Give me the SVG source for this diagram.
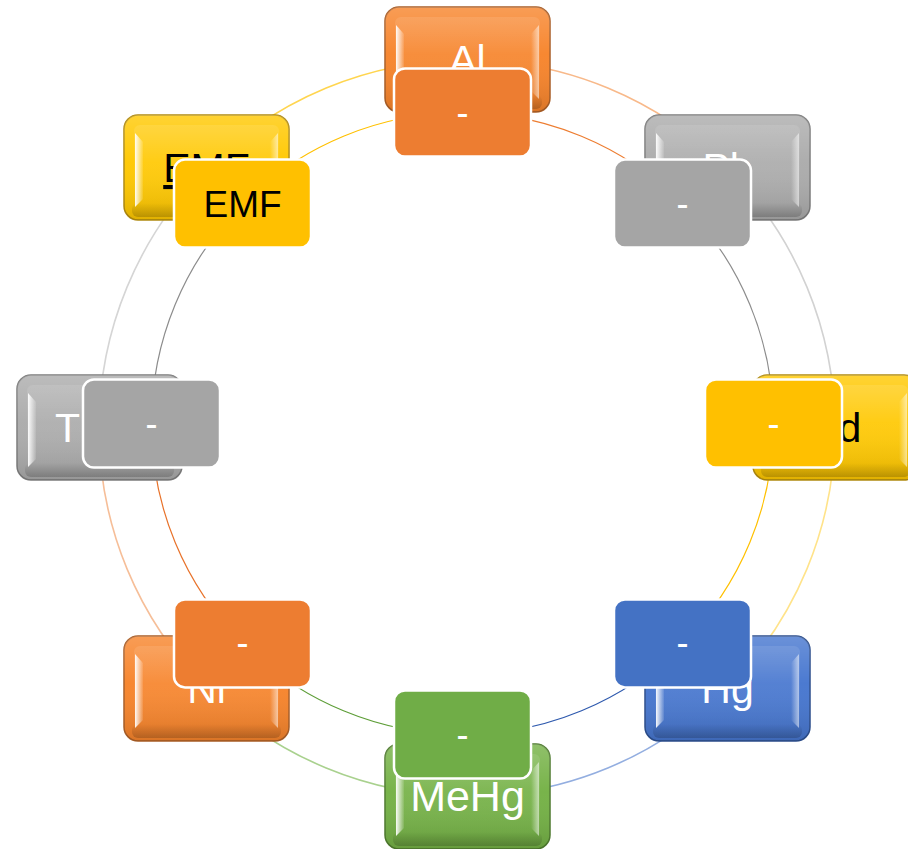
<svg xmlns="http://www.w3.org/2000/svg" xmlns:xlink="http://www.w3.org/1999/xlink" width="908" height="849" viewBox="0 0 908 849">
  <style>
    .ring { fill: none; }
    .outer-arc { stroke-width: 1.6; }
    .inner-arc { stroke-width: 1.2; }
    .key { stroke-width: 1.5; }
    .k-orange { fill: #F7842B; stroke: #A95E27; }
    .k-gray { fill: #ABABAB; stroke: #7C7C7C; }
    .k-yellow { fill: #FFC800; stroke: #B08A10; }
    .k-blue { fill: #4676CF; stroke: #2C4E8C; }
    .k-green { fill: #74B145; stroke: #4E7A2E; }
    .tag { stroke: #FFFFFF; stroke-width: 2.5; }
    .t-orange { fill: #ED7D31; }
    .t-gray { fill: #A5A5A5; }
    .t-yellow { fill: #FFC000; }
    .t-blue { fill: #4472C4; }
    .t-green { fill: #70AD47; }
    .key-text { font-family: "Liberation Sans", Arial, sans-serif; font-size: 41px; text-anchor: middle; fill: #FFFFFF; }
    .key-text.dark { fill: #000000; }
    .key-text.wide { font-size: 43px; }
    .tag-text { font-family: "Liberation Sans", Arial, sans-serif; font-size: 36px; text-anchor: middle; fill: #FFFFFF; }
    .tag-text.dark { fill: #000000; font-size: 37px; }
  </style>
  <defs>
    <linearGradient id="gloss" x1="0" y1="0" x2="0" y2="1">
      <stop offset="0" stop-color="#FFFFFF" stop-opacity="0.20"/>
      <stop offset="0.45" stop-color="#FFFFFF" stop-opacity="0.03"/>
      <stop offset="1" stop-color="#000000" stop-opacity="0.12"/>
    </linearGradient>
    <linearGradient id="face" x1="0" y1="0" x2="0" y2="1">
      <stop offset="0" stop-color="#FFFFFF" stop-opacity="0.10"/>
      <stop offset="1" stop-color="#FFFFFF" stop-opacity="0"/>
    </linearGradient>
    <linearGradient id="hiLeft" x1="0" y1="0" x2="1" y2="0">
      <stop offset="0" stop-color="#FFFFFF" stop-opacity="0.95"/>
      <stop offset="1" stop-color="#FFFFFF" stop-opacity="0.1"/>
    </linearGradient>
    <linearGradient id="hiRight" x1="1" y1="0" x2="0" y2="0">
      <stop offset="0" stop-color="#FFFFFF" stop-opacity="0.55"/>
      <stop offset="1" stop-color="#FFFFFF" stop-opacity="0"/>
    </linearGradient>
    <linearGradient id="shadeBottom" x1="0" y1="0" x2="0" y2="1">
      <stop offset="0" stop-color="#000000" stop-opacity="0"/>
      <stop offset="1" stop-color="#000000" stop-opacity="0.18"/>
    </linearGradient>
    <!-- bevel overlay for a 165x105 key, drawn over its base colour -->
    <g id="bevel">
      <rect x="0" y="0" width="165" height="105" rx="14" fill="url(#gloss)"/>
      <rect x="10" y="10" width="145" height="82" rx="6" fill="url(#face)"/>
      <rect x="8" y="88" width="149" height="14" rx="6" fill="url(#shadeBottom)"/>
      <path d="M11,18 L19,27 L19,84 L11,92 Z" fill="url(#hiLeft)"/>
      <path d="M154,18 L146,27 L146,84 L154,92 Z" fill="url(#hiRight)"/>
    </g>
  </defs>

  <!-- ring connectors -->
  <g id="connectors" class="ring">
    <!-- outer ring -->
    <path class="outer-arc" stroke="#F8B98A" d="M467,60 A368,368 0 0 1 727.2,167.8"/>
    <path class="outer-arc" stroke="#D2D2D2" d="M727.2,167.8 A368,368 0 0 1 835,428"/>
    <path class="outer-arc" stroke="#FFE38A" d="M835,428 A368,368 0 0 1 727.2,688.2"/>
    <path class="outer-arc" stroke="#93AEE0" d="M727.2,688.2 A368,368 0 0 1 467,796"/>
    <path class="outer-arc" stroke="#A9D18E" d="M467,796 A368,368 0 0 1 206.8,688.2"/>
    <path class="outer-arc" stroke="#F6BE98" d="M206.8,688.2 A368,368 0 0 1 99,428"/>
    <path class="outer-arc" stroke="#D5D5D5" d="M99,428 A368,368 0 0 1 206.8,167.8"/>
    <path class="outer-arc" stroke="#FFD54F" d="M206.8,167.8 A368,368 0 0 1 467,60"/>
    <!-- inner ring -->
    <path class="inner-arc" stroke="#ED7D31" d="M462.5,112.5 A311,311 0 0 1 682.4,203.6"/>
    <path class="inner-arc" stroke="#8C8C8C" d="M682.4,203.6 A311,311 0 0 1 773.5,423.5"/>
    <path class="inner-arc" stroke="#FFC000" d="M773.5,423.5 A311,311 0 0 1 682.4,643.4"/>
    <path class="inner-arc" stroke="#2F5AAE" d="M682.4,643.4 A311,311 0 0 1 462.5,734.5"/>
    <path class="inner-arc" stroke="#5E9E38" d="M462.5,734.5 A311,311 0 0 1 242.6,643.4"/>
    <path class="inner-arc" stroke="#E8722A" d="M242.6,643.4 A311,311 0 0 1 151.5,423.5"/>
    <path class="inner-arc" stroke="#8C8C8C" d="M151.5,423.5 A311,311 0 0 1 242.6,203.6"/>
    <path class="inner-arc" stroke="#FFC000" d="M242.6,203.6 A311,311 0 0 1 462.5,112.5"/>
  </g>

  <!-- outer keys -->
  <g id="key-al" transform="translate(385,7)">
    <rect class="key k-orange" width="165" height="105" rx="14"/>
    <use xlink:href="#bevel"/>
    <text class="key-text" x="82.5" y="67">Al</text>
  </g>
  <g id="key-pb" transform="translate(645,115)">
    <rect class="key k-gray" width="165" height="105" rx="14"/>
    <use xlink:href="#bevel"/>
    <text class="key-text" x="82.5" y="67">Pb</text>
  </g>
  <g id="key-cd" transform="translate(753,375)">
    <rect class="key k-yellow" width="165" height="105" rx="14"/>
    <use xlink:href="#bevel"/>
    <text class="key-text dark" x="82" y="67">Cd</text>
  </g>
  <g id="key-hg" transform="translate(645,636)">
    <rect class="key k-blue" width="165" height="105" rx="14"/>
    <use xlink:href="#bevel"/>
    <text class="key-text" x="82.5" y="67">Hg</text>
  </g>
  <g id="key-mehg" transform="translate(385,744)">
    <rect class="key k-green" width="165" height="105" rx="14"/>
    <use xlink:href="#bevel"/>
    <text class="key-text wide" x="82.5" y="67">MeHg</text>
  </g>
  <g id="key-ni" transform="translate(124,636)">
    <rect class="key k-orange" width="165" height="105" rx="14"/>
    <use xlink:href="#bevel"/>
    <text class="key-text" x="82.5" y="67">Ni</text>
  </g>
  <g id="key-t" transform="translate(17,375)">
    <rect class="key k-gray" width="165" height="105" rx="14"/>
    <use xlink:href="#bevel"/>
    <text class="key-text" x="38" y="67" style="text-anchor:start">T</text>
  </g>
  <g id="key-emf" transform="translate(124,115)">
    <rect class="key k-yellow" width="165" height="105" rx="14"/>
    <use xlink:href="#bevel"/>
    <text class="key-text dark" x="82.5" y="67" text-decoration="underline">EMF</text>
  </g>

  <!-- inner tags -->
  <g id="tag-al">
    <rect class="tag t-orange" x="394" y="68.5" width="137" height="88" rx="11"/>
    <text class="tag-text" x="462.5" y="124.5">-</text>
  </g>
  <g id="tag-pb">
    <rect class="tag t-gray" x="614" y="159.6" width="137" height="88" rx="11"/>
    <text class="tag-text" x="682.4" y="215.6">-</text>
  </g>
  <g id="tag-cd">
    <rect class="tag t-yellow" x="705" y="379.5" width="137" height="88" rx="11"/>
    <text class="tag-text" x="773.5" y="435.5">-</text>
  </g>
  <g id="tag-hg">
    <rect class="tag t-blue" x="614" y="599.4" width="137" height="88" rx="11"/>
    <text class="tag-text" x="682.4" y="655.4">-</text>
  </g>
  <g id="tag-mehg">
    <rect class="tag t-green" x="394" y="690.5" width="137" height="88" rx="11"/>
    <text class="tag-text" x="462.5" y="746.5">-</text>
  </g>
  <g id="tag-ni">
    <rect class="tag t-orange" x="174" y="599.4" width="137" height="88" rx="11"/>
    <text class="tag-text" x="242.6" y="655.4">-</text>
  </g>
  <g id="tag-t">
    <rect class="tag t-gray" x="83" y="379.5" width="137" height="88" rx="11"/>
    <text class="tag-text" x="151.5" y="435.5">-</text>
  </g>
  <g id="tag-emf">
    <rect class="tag t-yellow" x="174" y="159.6" width="137" height="88" rx="11"/>
    <text class="tag-text dark" x="242.6" y="217">EMF</text>
  </g>
</svg>
